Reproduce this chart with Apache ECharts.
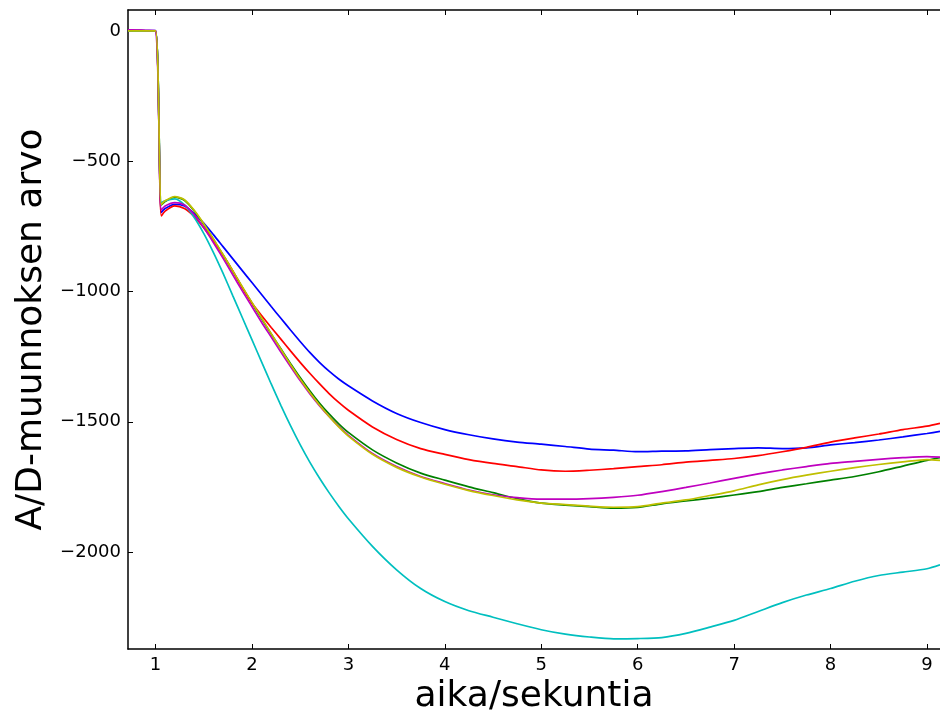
<!DOCTYPE html>
<html>
<head>
<meta charset="utf-8">
<script src="https://cdn.jsdelivr.net/npm/echarts@6/dist/echarts.min.js"></script>
<style>
  html, body { margin: 0; padding: 0; background: #ffffff; }
  #chart { width: 940px; height: 712px; }
</style>
</head>
<body>
<div id="chart"></div>
<script>
// Sample times (s) shared by all six measurement runs
const times = [0.715, 0.8, 0.9, 1.0, 1.06, 1.1, 1.2, 1.3, 1.4, 1.5, 1.6, 1.7, 1.8, 1.9,
  2.0, 2.1, 2.2, 2.3, 2.4, 2.5, 2.6, 2.7, 2.8, 2.9, 3.0, 3.25, 3.5, 3.75, 4.0, 4.25,
  4.5, 4.75, 5.0, 5.25, 5.5, 5.75, 6.0, 6.25, 6.5, 6.75, 7.0, 7.25, 7.5, 7.75, 8.0,
  8.25, 8.5, 8.75, 9.0, 9.135];

// A/D converter readings per run
const runBlue = [2, 2, 1, 1, -697, -682, -666, -672, -700, -738, -782, -828, -874, -920,
  -966, -1012, -1058, -1103, -1148, -1192, -1234, -1272, -1306, -1336, -1362, -1420, -1468, -1503, -1530, -1550,
  -1566, -1578, -1586, -1595, -1605, -1609, -1615, -1613, -1612, -1607, -1603, -1600, -1603, -1600, -1589,
  -1580, -1570, -1558, -1545, -1537];

const runGreen = [0, 0, 0, 0, -668, -655, -638, -650, -690, -742, -800, -860, -922, -985,
  -1045, -1105, -1163, -1220, -1276, -1330, -1381, -1428, -1470, -1508, -1541, -1608, -1658, -1697, -1724, -1750,
  -1772, -1795, -1812, -1820, -1826, -1832, -1829, -1815, -1804, -1793, -1781, -1768, -1752, -1738, -1724,
  -1710, -1692, -1670, -1648, -1638];

const runRed = [1, 1, 0, 0, -710, -692, -672, -682, -712, -755, -805, -860, -920, -985,
  -1044, -1092, -1138, -1183, -1228, -1272, -1314, -1354, -1392, -1426, -1456, -1520, -1568, -1603, -1625, -1645,
  -1660, -1672, -1685, -1690, -1686, -1680, -1672, -1665, -1655, -1648, -1641, -1630, -1615, -1598, -1578,
  -1562, -1547, -1530, -1517, -1506];

const runCyan = [0, 0, 0, 0, -660, -652, -645, -668, -715, -777, -850, -930, -1015, -1100,
  -1185, -1270, -1355, -1437, -1515, -1588, -1655, -1716, -1772, -1824, -1872, -1978, -2068, -2140, -2190, -2225,
  -2250, -2275, -2298, -2315, -2326, -2333, -2332, -2328, -2312, -2288, -2262, -2228, -2194, -2165, -2140,
  -2112, -2090, -2077, -2064, -2049];

const runMagenta = [4, 3, 2, 1, -687, -672, -659, -668, -705, -755, -812, -872, -935, -998,
  -1058, -1118, -1175, -1232, -1288, -1342, -1392, -1438, -1480, -1518, -1552, -1622, -1672, -1710, -1737, -1762,
  -1780, -1791, -1797, -1797, -1795, -1790, -1782, -1768, -1752, -1735, -1717, -1700, -1685, -1672, -1660,
  -1652, -1644, -1638, -1634, -1636];

const runYellow = [0, 0, 0, 0, -666, -652, -636, -648, -688, -740, -798, -858, -920, -982,
  -1042, -1102, -1162, -1222, -1280, -1336, -1388, -1436, -1480, -1520, -1555, -1625, -1675, -1712, -1740, -1764,
  -1783, -1800, -1812, -1818, -1824, -1828, -1826, -1812, -1800, -1783, -1765, -1742, -1722, -1705, -1690,
  -1676, -1664, -1654, -1645, -1648];

// Tick positions
const xTicks = [1, 2, 3, 4, 5, 6, 7, 8, 9];
const yTicks = [0, -500, -1000, -1500, -2000];

const FONT = 'DejaVu Sans';
const uminus = v => String(v).replace('-', '\u2212');
const pairs = vals => times.map((t, i) => [t, vals[i]]);

const runs = [
  { data: runBlue, color: '#0000ff' },
  { data: runGreen, color: '#008000' },
  { data: runRed, color: '#ff0000' },
  { data: runCyan, color: '#00bfbf' },
  { data: runMagenta, color: '#bf00bf' },
  { data: runYellow, color: '#bfbf00' }
];

const frameLine = { color: '#000000', width: 1.5 };
const tickStyle = { color: '#000000', width: 1 };

const chart = echarts.init(document.getElementById('chart'), null, { renderer: 'canvas' });
chart.setOption({
  animation: false,
  backgroundColor: '#ffffff',
  grid: { left: 128, right: 0, top: 10, bottom: 63, containLabel: false, outerBoundsMode: 'none' },
  xAxis: [
    {
      type: 'value', position: 'bottom', min: 0.715, max: 9.135,
      name: 'aika/sekuntia', nameLocation: 'middle', nameGap: 27,
      nameTextStyle: { fontFamily: FONT, fontSize: 36, color: '#000000' },
      axisLine: { onZero: false, lineStyle: frameLine },
      axisTick: { inside: true, length: 5, customValues: xTicks, lineStyle: tickStyle },
      axisLabel: { customValues: xTicks, fontFamily: FONT, fontSize: 18, color: '#000000', margin: 7 },
      splitLine: { show: false }
    },
    {
      type: 'value', position: 'top', min: 0.715, max: 9.135,
      axisLine: { onZero: false, lineStyle: frameLine },
      axisTick: { inside: true, length: 5, customValues: xTicks, lineStyle: tickStyle },
      axisLabel: { show: false },
      splitLine: { show: false }
    }
  ],
  yAxis: [
    {
      type: 'value', position: 'left', min: -2372, max: 80,
      name: 'A/D-muunnoksen arvo', nameLocation: 'middle', nameGap: 76, nameRotate: 90,
      nameTextStyle: { fontFamily: FONT, fontSize: 36, color: '#000000' },
      axisLine: { onZero: false, lineStyle: frameLine },
      axisTick: { inside: true, length: 5, customValues: yTicks, lineStyle: tickStyle },
      axisLabel: { customValues: yTicks, fontFamily: FONT, fontSize: 18, color: '#000000', margin: 7, formatter: uminus },
      splitLine: { show: false }
    }
  ],
  series: runs.map(r => ({
    type: 'line',
    xAxisIndex: 0,
    yAxisIndex: 0,
    data: pairs(r.data),
    showSymbol: false,
    symbol: 'none',
    smooth: 0.25,
    lineStyle: { color: r.color, width: 1.7 },
    itemStyle: { color: r.color },
    emphasis: { disabled: true }
  }))
});
</script>
</body>
</html>
